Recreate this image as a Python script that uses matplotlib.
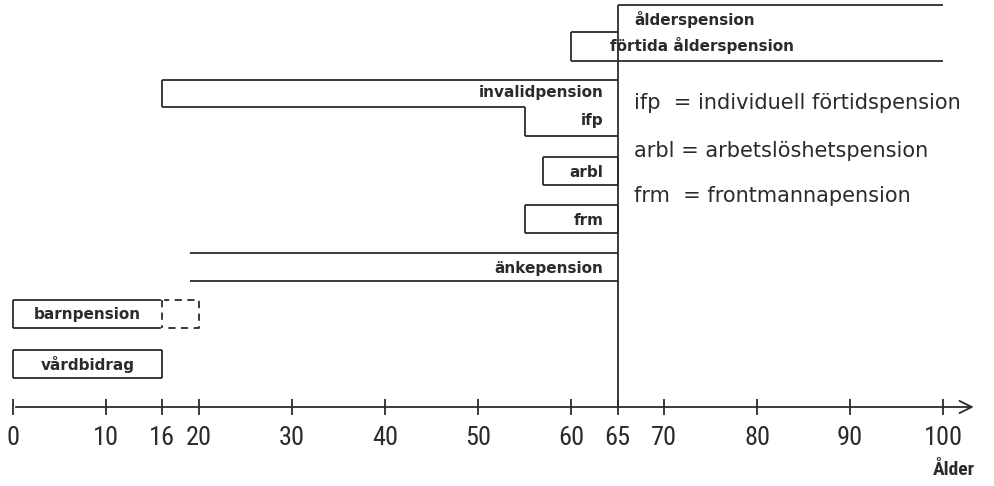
import matplotlib
matplotlib.use('Agg')
import matplotlib.pyplot as plt
from matplotlib import font_manager

# pension schemes: name, start age, end age
schemes = ['ålderspension', 'förtida ålderspension', 'invalidpension', 'ifp',
           'arbl', 'frm', 'änkepension', 'barnpension', 'vårdbidrag']
start_age = [65, 60, 16, 55, 57, 55, 19, 0, 0]
end_age = [100, 100, 65, 65, 65, 65, 65, 16, 16]
barn_extra_end = 20   # dashed part of barnpension
retire_age = 65

ticks = [0, 10, 16, 20, 30, 40, 50, 60, 65, 70, 80, 90, 100]
legend_lines = ['ifp  = individuell förtidspension',
                'arbl = arbetslöshetspension',
                'frm  = frontmannapension']

# layout (rows in pixel units from top)
row_top = [5, 32, 80, 107, 157, 205, 253, 300, 350]
row_h = 28
axis_y = 407

col = '#2b2b2b'
lw = 1.3

names = {f.name for f in font_manager.fontManager.ttflist}
narrow = [n for n in ['Liberation Sans Narrow', 'DejaVu Sans Condensed',
                      'Roboto Condensed'] if n in names] + ['DejaVu Sans']

fig = plt.figure(figsize=(9.95, 4.86), dpi=100)
ax = fig.add_axes([0, 0, 1, 1])
ax.set_xlim(-13 / 9.3, (995 - 13) / 9.3)
ax.set_ylim(486, 0)
ax.axis('off')

def hline(x0, x1, y, **kw):
    ax.plot([x0, x1], [y, y], color=col, lw=lw, solid_capstyle='butt', **kw)

def vline(x, y0, y1, **kw):
    ax.plot([x, x], [y0, y1], color=col, lw=lw, solid_capstyle='butt', **kw)

# ålderspension
t = row_top[0]
hline(start_age[0], end_age[0], t)
# förtida ålderspension
t = row_top[1]
hline(start_age[1], retire_age, t)
vline(start_age[1], t, t + 29)
hline(start_age[1], end_age[1], t + 29)
# invalidpension + ifp
t = row_top[2]
hline(start_age[2], end_age[2], t)
vline(start_age[2], t, t + 27)
hline(start_age[2], start_age[3], t + 27)
t = row_top[3]
vline(start_age[3], t, t + 29)
hline(start_age[3], end_age[3], t + 29)
# arbl, frm, barn, vård closed boxes
for i in [4, 5, 7, 8]:
    t = row_top[i]
    hline(start_age[i], end_age[i], t)
    hline(start_age[i], end_age[i], t + row_h)
    vline(start_age[i], t, t + row_h)
    vline(end_age[i], t, t + row_h)
# änkepension open lines
t = row_top[6]
hline(start_age[6], end_age[6], t)
hline(start_age[6], end_age[6], t + row_h)
# dashed barnpension extension
t = row_top[7]
ax.plot([end_age[7], barn_extra_end, barn_extra_end, end_age[7]],
        [t, t, t + row_h, t + row_h], color=col, lw=lw, ls=(0, (4, 3)))
ax.plot([end_age[7], end_age[7]], [t, t + row_h], color='white', lw=lw + 1)
ax.plot([end_age[7], end_age[7]], [t, t + row_h], color=col, lw=lw, ls=(0, (4, 3)))

# retirement line
vline(retire_age, row_top[0], axis_y)

# labels
lab_kw = dict(fontsize=11, fontweight='bold', color=col, va='center')
ax.text(66.8, 19, schemes[0], ha='left', **lab_kw)
ax.text(64.2, 45, schemes[1], ha='left', **lab_kw)
for i, y in [(2, 93), (3, 120), (4, 172), (5, 220), (6, 268)]:
    ax.text(63.5, y, schemes[i], ha='right', **lab_kw)
for i, y in [(7, 314), (8, 364)]:
    ax.text(8, y, schemes[i], ha='center', **lab_kw)

for s, y in zip(legend_lines, [103, 151, 196]):
    ax.text(66.8, y, s, ha='left', va='center', fontsize=15, color=col)

# age axis
ax.annotate('', xy=(103.6, axis_y), xytext=(0, axis_y),
            arrowprops=dict(arrowstyle='->', color=col, lw=lw,
                            mutation_scale=22))
for v in ticks:
    vline(v, axis_y - 8, axis_y + 8)
    ax.text(v, 438, str(v), ha='center', va='center', fontsize=19,
            color=col, family=narrow, fontstretch='condensed')
ax.text(101.2, 470, 'Ålder', ha='center', va='center', fontsize=14,
        fontweight='bold', color=col, family=narrow, fontstretch='condensed')

fig.savefig('out.png', dpi=100)
